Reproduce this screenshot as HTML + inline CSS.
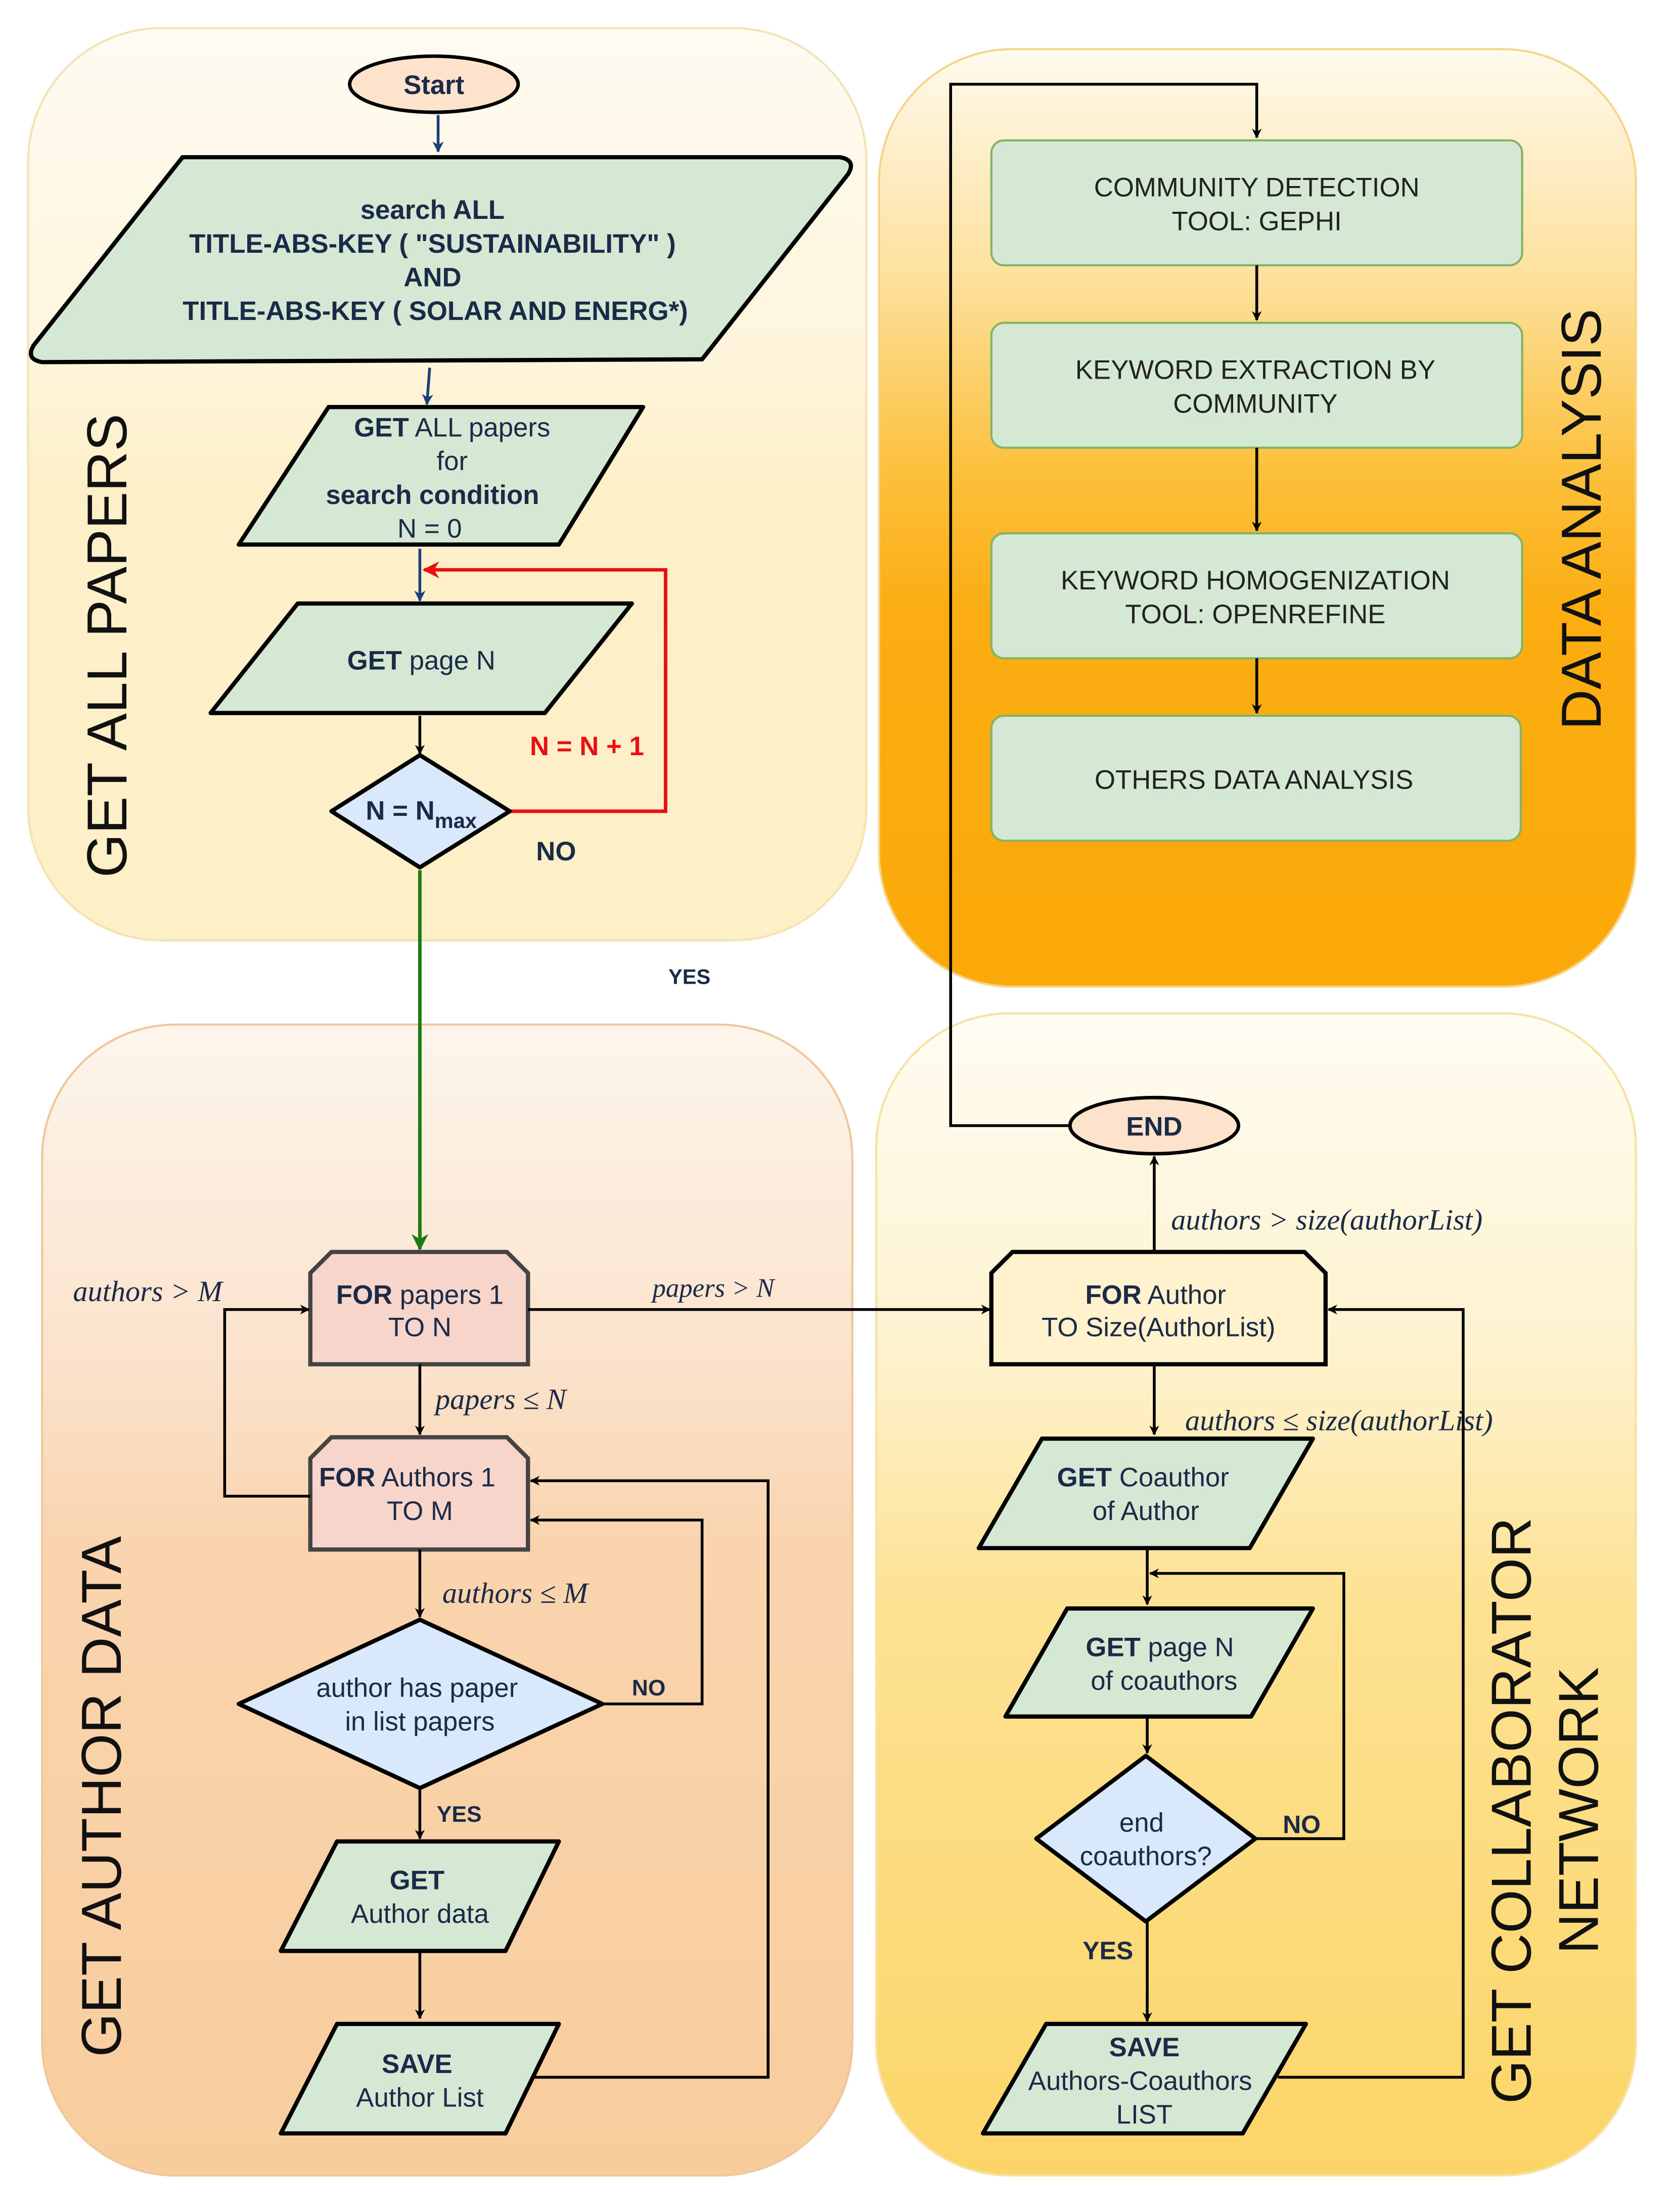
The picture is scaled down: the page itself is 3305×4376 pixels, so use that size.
<!DOCTYPE html>
<html><head><meta charset="utf-8"><style>
html,body{margin:0;padding:0;background:#fff}
svg{display:block}
text{font-family:"Liberation Sans",sans-serif;fill:#1b2a47}
.n{font-size:19px;text-anchor:middle}
.b{font-weight:bold}
.m{font-family:"Liberation Serif",serif;font-style:italic;font-size:21px;fill:#1b2a47}
.big{font-size:40px;fill:#111;text-anchor:middle}
.da{font-size:19px;text-anchor:middle;fill:#222}
</style></head><body>
<svg width="3305" height="4376" viewBox="0 0 1190 1576" preserveAspectRatio="none" xmlns="http://www.w3.org/2000/svg">
<defs>
<linearGradient id="g1" x1="0" y1="0" x2="0" y2="1"><stop offset="0" stop-color="#fefbf2"/><stop offset="0.35" stop-color="#fef5dc"/><stop offset="0.5" stop-color="#fdf0c9"/><stop offset="1" stop-color="#fdefc6"/></linearGradient>
<linearGradient id="g2" x1="0" y1="0" x2="0" y2="1"><stop offset="0" stop-color="#fefaee"/><stop offset="0.25" stop-color="#fde09a"/><stop offset="0.45" stop-color="#fcc03c"/><stop offset="0.6" stop-color="#fbad12"/><stop offset="1" stop-color="#fba908"/></linearGradient>
<linearGradient id="g3" x1="0" y1="0" x2="0" y2="1"><stop offset="0" stop-color="#fdf5ec"/><stop offset="0.3" stop-color="#fbe2cb"/><stop offset="0.45" stop-color="#f9d4ae"/><stop offset="1" stop-color="#f8cd9c"/></linearGradient>
<linearGradient id="g4" x1="0" y1="0" x2="0" y2="1"><stop offset="0" stop-color="#fffcf3"/><stop offset="0.3" stop-color="#fef2cd"/><stop offset="0.5" stop-color="#fde294"/><stop offset="1" stop-color="#fcd567"/></linearGradient>
<marker id="a" viewBox="0 0 10 10" refX="9" refY="5" markerWidth="7" markerHeight="7" orient="auto-start-reverse" markerUnits="userSpaceOnUse"><path d="M0,0 L10,5 L0,10 L3,5 z" fill="#000"/></marker>
<marker id="ab" viewBox="0 0 10 10" refX="9" refY="5" markerWidth="8" markerHeight="8" orient="auto" markerUnits="userSpaceOnUse"><path d="M0,0 L10,5 L0,10 L3,5 z" fill="#1a3f7a"/></marker>
<marker id="ar" viewBox="0 0 10 10" refX="9" refY="5" markerWidth="12" markerHeight="12" orient="auto" markerUnits="userSpaceOnUse"><path d="M0,0 L10,5 L0,10 L3,5 z" fill="#e81010"/></marker>
<marker id="ag" viewBox="0 0 10 10" refX="9" refY="5" markerWidth="12" markerHeight="12" orient="auto" markerUnits="userSpaceOnUse"><path d="M0,0 L10,5 L0,10 L3,5 z" fill="#1f7a12"/></marker>
</defs>
<rect width="1190" height="1576" fill="#fff"/>
<!-- panels -->
<rect x="20" y="20" width="597" height="650" rx="95" fill="url(#g1)" stroke="#f3e3b5" stroke-width="1.5"/>
<rect x="626" y="35" width="539" height="668" rx="95" fill="url(#g2)" stroke="#f6d58a" stroke-width="1.5"/>
<rect x="30" y="730" width="577" height="820" rx="95" fill="url(#g3)" stroke="#f1c69a" stroke-width="1.5"/>
<rect x="624" y="722" width="541" height="828" rx="95" fill="url(#g4)" stroke="#f6e2a4" stroke-width="1.5"/>
<text class="big" transform="translate(90,460) rotate(-90)">GET ALL PAPERS</text>
<text class="big" transform="translate(1140,370) rotate(-90)">DATA ANALYSIS</text>
<text class="big" transform="translate(86,1280) rotate(-90)">GET AUTHOR DATA</text>
<text class="big" transform="translate(1090,1290) rotate(-90)">GET COLLABORATOR</text>
<text class="big" transform="translate(1138,1290) rotate(-90)">NETWORK</text>

<!-- Top left flow -->
<ellipse cx="309" cy="60" rx="60" ry="20" fill="#fde2cc" stroke="#000" stroke-width="2.5"/>
<text class="n b" x="309" y="67">Start</text>
<line x1="312" y1="82" x2="312" y2="108" stroke="#1a3f7a" stroke-width="2" marker-end="url(#ab)"/>
<path d="M130,112 L598,112 Q610,114 604,124 L500,256 L30,258 Q18,256 24,246 Z" fill="#d5e8d4" stroke="#000" stroke-width="3" stroke-linejoin="round"/>
<text class="n b" x="308" y="156">search ALL</text>
<text class="n b" x="308" y="180">TITLE-ABS-KEY ( "SUSTAINABILITY" )</text>
<text class="n b" x="308" y="204">AND</text>
<text class="n b" x="310" y="228">TITLE-ABS-KEY ( SOLAR AND ENERG*)</text>
<line x1="306" y1="262" x2="304" y2="288" stroke="#1a3f7a" stroke-width="2" marker-end="url(#ab)"/>
<path d="M234,290 L458,290 L398,388 L170,388 Z" fill="#d5e8d4" stroke="#000" stroke-width="3" stroke-linejoin="round"/>
<text class="n" x="322" y="311"><tspan class="b">GET</tspan> ALL papers</text>
<text class="n" x="322" y="335">for</text>
<text class="n b" x="308" y="359">search condition</text>
<text class="n" x="306" y="383">N = 0</text>
<line x1="299" y1="391" x2="299" y2="428" stroke="#1a3f7a" stroke-width="2" marker-end="url(#ab)"/>
<path d="M363,578 L474,578 L474,406 L302,406" fill="none" stroke="#e81010" stroke-width="2.5" marker-end="url(#ar)"/>
<path d="M212,430 L450,430 L388,508 L150,508 Z" fill="#d5e8d4" stroke="#000" stroke-width="3" stroke-linejoin="round"/>
<text class="n" x="300" y="477"><tspan class="b">GET</tspan> page N</text>
<line x1="299" y1="510" x2="299" y2="537" stroke="#000" stroke-width="2" marker-end="url(#a)"/>
<path d="M299,538 L363,578 L299,618 L236,578 Z" fill="#dae8fc" stroke="#000" stroke-width="3" stroke-linejoin="round"/>
<text class="n b" x="300" y="584">N = N<tspan font-size="15" dy="6">max</tspan></text>
<text class="n b" x="418" y="538" style="fill:#e81010">N = N + 1</text>
<text class="n b" x="396" y="613">NO</text>
<text class="b" x="491" y="701" style="font-size:15px;text-anchor:middle">YES</text>
<line x1="299" y1="620" x2="299" y2="890" stroke="#1f7a12" stroke-width="2.5" marker-end="url(#ag)"/>

<!-- Data analysis -->
<path d="M762,802 L677,802 L677,60 L895,60 L895,98" fill="none" stroke="#000" stroke-width="2" marker-end="url(#a)"/>
<rect x="706" y="100" width="378" height="89" rx="9" fill="#d5e8d4" stroke="#82b366" stroke-width="1.5"/>
<text class="da" x="895" y="140">COMMUNITY DETECTION</text><text class="da" x="895" y="164">TOOL: GEPHI</text>
<line x1="895" y1="189" x2="895" y2="228" stroke="#000" stroke-width="2" marker-end="url(#a)"/>
<rect x="706" y="230" width="378" height="89" rx="9" fill="#d5e8d4" stroke="#82b366" stroke-width="1.5"/>
<text class="da" x="894" y="270">KEYWORD EXTRACTION BY</text><text class="da" x="894" y="294">COMMUNITY</text>
<line x1="895" y1="319" x2="895" y2="378" stroke="#000" stroke-width="2" marker-end="url(#a)"/>
<rect x="706" y="380" width="378" height="89" rx="9" fill="#d5e8d4" stroke="#82b366" stroke-width="1.5"/>
<text class="da" x="894" y="420">KEYWORD HOMOGENIZATION</text><text class="da" x="894" y="444">TOOL: OPENREFINE</text>
<line x1="895" y1="469" x2="895" y2="508" stroke="#000" stroke-width="2" marker-end="url(#a)"/>
<rect x="706" y="510" width="377" height="89" rx="9" fill="#d5e8d4" stroke="#82b366" stroke-width="1.5"/>
<text class="da" x="893" y="562">OTHERS DATA ANALYSIS</text>

<!-- Author data -->
<path d="M236,892 L361,892 L376,907 L376,972 L221,972 L221,907 Z" fill="#f8d5cb" stroke="#444" stroke-width="3"/>
<text class="n" x="299" y="929"><tspan class="b">FOR</tspan> papers 1</text>
<text class="n" x="299" y="952">TO N</text>
<line x1="376" y1="933" x2="705" y2="933" stroke="#000" stroke-width="2" marker-end="url(#a)"/>
<text class="m" x="508" y="924" text-anchor="middle" style="font-size:19px">papers &gt; N</text>
<line x1="299" y1="972" x2="299" y2="1022" stroke="#000" stroke-width="2" marker-end="url(#a)"/>
<text class="m" x="310" y="1004">papers ≤ N</text>
<path d="M236,1024 L361,1024 L376,1039 L376,1104 L221,1104 L221,1039 Z" fill="#f8d5cb" stroke="#444" stroke-width="3"/>
<text class="n" x="290" y="1059"><tspan class="b">FOR</tspan> Authors 1</text>
<text class="n" x="299" y="1083">TO M</text>
<path d="M221,1066 L160,1066 L160,933 L220,933" fill="none" stroke="#000" stroke-width="2" marker-end="url(#a)"/>
<text class="m" x="52" y="927">authors &gt; M</text>
<line x1="299" y1="1104" x2="299" y2="1152" stroke="#000" stroke-width="2" marker-end="url(#a)"/>
<text class="m" x="315" y="1142">authors ≤ M</text>
<path d="M299,1154 L429,1214 L299,1274 L170,1214 Z" fill="#dae8fc" stroke="#000" stroke-width="3" stroke-linejoin="round"/>
<text class="n" x="297" y="1209">author has paper</text>
<text class="n" x="299" y="1233">in list papers</text>
<path d="M429,1214 L500,1214 L500,1083 L378,1083" fill="none" stroke="#000" stroke-width="2" marker-end="url(#a)"/>
<text class="b" x="462" y="1208" style="font-size:16px;text-anchor:middle">NO</text>
<line x1="299" y1="1274" x2="299" y2="1310" stroke="#000" stroke-width="2" marker-end="url(#a)"/>
<text class="b" x="327" y="1298" style="font-size:16px;text-anchor:middle">YES</text>
<path d="M240,1312 L398,1312 L360,1390 L200,1390 Z" fill="#d5e8d4" stroke="#000" stroke-width="3" stroke-linejoin="round"/>
<text class="n b" x="297" y="1346">GET</text>
<text class="n" x="299" y="1370">Author data</text>
<line x1="299" y1="1390" x2="299" y2="1438" stroke="#000" stroke-width="2" marker-end="url(#a)"/>
<path d="M240,1442 L398,1442 L360,1520 L200,1520 Z" fill="#d5e8d4" stroke="#000" stroke-width="3" stroke-linejoin="round"/>
<text class="n b" x="297" y="1477">SAVE</text>
<text class="n" x="299" y="1501">Author List</text>
<path d="M380,1480 L547,1480 L547,1055 L378,1055" fill="none" stroke="#000" stroke-width="2" marker-end="url(#a)"/>

<!-- Collaborator network -->
<ellipse cx="822" cy="802" rx="60" ry="20" fill="#fde2cc" stroke="#000" stroke-width="2.5"/>
<text class="n b" x="822" y="809">END</text>
<line x1="822" y1="892" x2="822" y2="824" stroke="#000" stroke-width="2" marker-end="url(#a)"/>
<text class="m" x="834" y="876">authors &gt; size(authorList)</text>
<path d="M721,892 L929,892 L944,907 L944,972 L706,972 L706,907 Z" fill="#fff2cc" stroke="#000" stroke-width="3"/>
<text class="n" x="823" y="929"><tspan class="b">FOR</tspan> Author</text>
<text class="n" x="825" y="952">TO  Size(AuthorList)</text>
<path d="M910,1480 L1042,1480 L1042,933 L946,933" fill="none" stroke="#000" stroke-width="2" marker-end="url(#a)"/>
<line x1="822" y1="972" x2="822" y2="1022" stroke="#000" stroke-width="2" marker-end="url(#a)"/>
<text class="m" x="844" y="1019">authors ≤ size(authorList)</text>
<path d="M742,1025 L935,1025 L890,1103 L697,1103 Z" fill="#d5e8d4" stroke="#000" stroke-width="3" stroke-linejoin="round"/>
<text class="n" x="814" y="1059"><tspan class="b">GET</tspan> Coauthor</text>
<text class="n" x="816" y="1083">of Author</text>
<line x1="817" y1="1104" x2="817" y2="1143" stroke="#000" stroke-width="2" marker-end="url(#a)"/>
<path d="M760,1146 L935,1146 L891,1223 L716,1223 Z" fill="#d5e8d4" stroke="#000" stroke-width="3" stroke-linejoin="round"/>
<text class="n" x="826" y="1180"><tspan class="b">GET</tspan> page N</text>
<text class="n" x="829" y="1204">of coauthors</text>
<line x1="817" y1="1223" x2="817" y2="1249" stroke="#000" stroke-width="2" marker-end="url(#a)"/>
<path d="M816,1251 L894,1310 L816,1369 L738,1310 Z" fill="#dae8fc" stroke="#000" stroke-width="3" stroke-linejoin="round"/>
<text class="n" x="813" y="1305">end</text>
<text class="n" x="816" y="1329">coauthors?</text>
<path d="M894,1310 L957,1310 L957,1121 L819,1121" fill="none" stroke="#000" stroke-width="2" marker-end="url(#a)"/>
<text class="b" x="927" y="1306" style="font-size:18px;text-anchor:middle">NO</text>
<line x1="817" y1="1369" x2="817" y2="1440" stroke="#000" stroke-width="2" marker-end="url(#a)"/>
<text class="b" x="789" y="1396" style="font-size:18px;text-anchor:middle">YES</text>
<path d="M745,1442 L930,1442 L885,1520 L700,1520 Z" fill="#d5e8d4" stroke="#000" stroke-width="3" stroke-linejoin="round"/>
<text class="n b" x="815" y="1465">SAVE</text>
<text class="n" x="812" y="1489">Authors-Coauthors</text>
<text class="n" x="815" y="1513">LIST</text>
</svg>
</body></html>
